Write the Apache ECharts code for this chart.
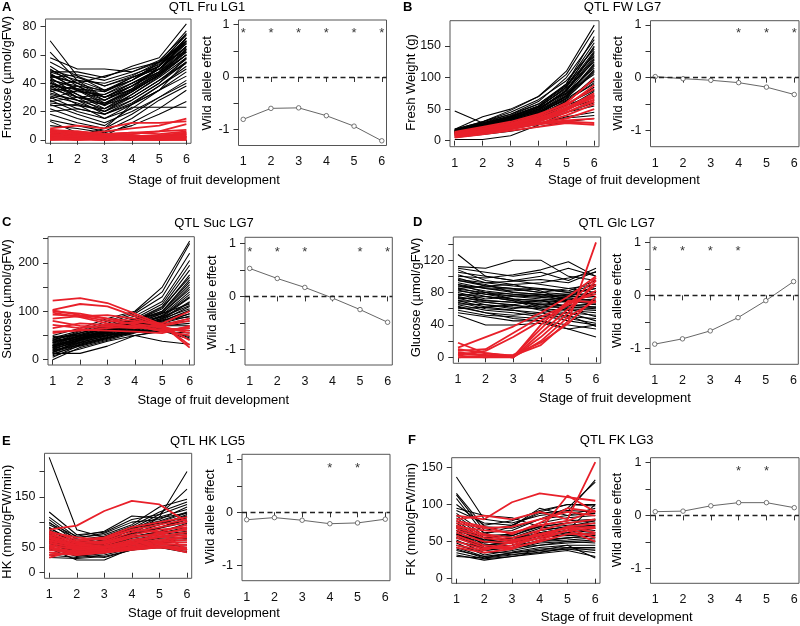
<!DOCTYPE html>
<html><head><meta charset="utf-8">
<script src="https://cdn.jsdelivr.net/npm/echarts@6/dist/echarts.min.js"></script>
<style>html,body{margin:0;padding:0;background:#fff}#c{width:800px;height:626px}</style>
</head><body><div id="c"></div>
<script>
// ---------- DATA ----------
const stages = [1, 2, 3, 4, 5, 6];
const effectTicks = [-1, -0.5, 0, 0.5, 1];
const effectLabels = [-1, 0, 1];
const starY = 0.89;

// A: Fructose (QTL Fru LG1)
const fruBlack = [
[70,45,35,42,52,72],[62,42,30,40,50,65],[58,50,50,48,55,70],[55,45,38,45,55,77],
[52,40,30,35,45,60],[50,38,28,38,50,68],[48,42,35,42,52,75],[47,35,25,30,42,55],
[45,40,45,50,55,62],[44,32,22,32,45,60],[42,38,30,40,48,72],[41,30,20,28,40,58],
[40,35,28,38,50,66],[38,28,18,25,38,52],[37,42,40,46,53,70],[36,30,25,35,47,63],
[35,25,15,25,35,48],[34,38,35,44,52,69],[32,28,22,30,42,57],[30,22,18,28,40,55],
[29,35,30,38,48,62],[28,20,15,22,35,45],[27,30,28,36,47,60],[25,18,12,20,30,40],
[24,25,20,30,42,54],[22,15,10,23,23,23],[20,22,18,26,38,50],[18,12,8,18,30,42],
[14,10,6,15,28,38],[13,5,3,12,22,35],[10,8,5,10,18,27],[5,3,8,25,35,55],
[48,48,44,52,58,82],[44,46,42,48,56,75],[39,30,32,42,55,68],[46,36,26,34,46,64],
[43,36,30,38,48,66],[40,32,24,34,46,62],[36,34,32,40,50,70],[33,28,25,36,48,64],
[46,40,34,42,54,74],[31,26,20,32,44,58],[49,44,38,44,50,66],[38,36,34,44,52,72],
[26,24,22,34,46,60],[42,30,26,36,52,68]];
const fruRed = [
[7,5,3,2,1,2],[5,2,1,0,0,1],[3,1,0,1,0,0],[8,10,8,12,12,13],[6,4,6,8,10,15],
[2,0,1,0,2,4],[4,3,2,3,2,3],[1,2,4,5,4,6],[0,0,0,1,1,2],[6,4,2,1,2,5],
[3,5,2,4,6,11],[2,1,1,2,3,4],[1,0,2,3,2,3],[4,3,2,1,3,5],[0,1,0,0,0,0],
[5,6,4,5,6,7],[2,1,3,2,1,2],[7,6,4,3,2,1],[1,1,0,2,1,1],[3,2,1,1,2,2]];
const fruEffect = [-0.81, -0.60, -0.59, -0.74, -0.94, -1.22];
const fruSig = [1, 2, 3, 4, 5, 6];

// B: Fresh weight (QTL FW LG7)
const fwBlack = [
[15,30,48,70,110,183],[18,38,50,70,105,175],[17,28,42,62,100,160],[16,25,38,55,90,155],
[14,24,35,52,85,150],[18,30,45,65,95,145],[12,22,34,50,80,140],[15,26,40,58,88,135],
[13,20,32,48,78,130],[16,28,38,54,82,125],[11,20,30,45,72,120],[14,24,36,50,76,115],
[12,18,28,42,68,110],[17,27,38,52,75,105],[10,18,26,40,62,100],[13,22,32,44,66,95],
[15,24,34,46,64,90],[11,17,25,36,55,85],[47,28,30,40,58,80],[9,16,24,34,52,78],
[14,22,30,40,56,72],[8,14,22,32,48,70],[12,18,27,37,50,65],[10,15,22,30,45,60],
[2,2,8,25,45,55],[6,12,18,26,38,45],[8,14,20,28,36,40],[5,10,15,22,30,35],
[16,26,36,48,70,112],[18,30,42,58,90,165],[13,21,33,47,74,128],[11,19,29,41,63,92],
[14,23,34,49,79,133],[16,26,37,53,84,142],[12,20,30,43,70,118],[15,25,36,50,80,138],
[13,22,31,45,71,122],[17,28,39,55,87,148],[11,19,28,40,60,98],[14,21,31,43,67,108]];
const fwRed = [
[12,20,28,40,60,98],[10,18,26,38,55,88],[14,22,30,42,58,82],[9,16,24,35,52,75],
[11,17,25,34,50,72],[8,14,22,32,48,70],[13,19,27,36,50,68],[7,13,20,30,44,65],
[10,15,23,31,45,62],[6,12,18,27,40,58],[12,16,22,28,35,50],[9,14,20,26,30,28],
[5,10,16,22,28,25],[11,15,21,27,32,35]];
const fwEffect = [0.02, -0.02, -0.05, -0.095, -0.18, -0.32];
const fwSig = [4, 5, 6];

// C: Sucrose (QTL Suc LG7)
const sucBlack = [
[50,65,85,100,150,245],[45,60,80,98,140,240],[40,58,75,95,130,220],[35,55,72,90,120,205],
[42,52,68,85,115,195],[30,50,65,82,110,185],[38,48,62,80,105,175],[25,45,60,78,100,165],
[32,50,64,76,98,155],[20,42,58,74,95,150],[28,46,62,72,92,140],[15,40,55,70,90,135],
[36,52,66,78,88,128],[22,38,52,68,86,120],[44,55,70,84,96,115],[18,35,50,65,82,110],
[30,44,58,70,85,105],[10,32,48,64,80,100],[26,40,54,68,78,95],[5,30,45,60,75,90],
[34,48,60,72,82,88],[12,28,42,58,72,85],[24,36,50,62,74,80],[0,25,40,55,70,75],
[40,46,56,64,70,70],[13,13,28,50,60,65],[20,30,44,56,64,60],[48,50,55,50,38,32],
[8,22,38,50,58,55],[28,40,52,60,62,48],[16,34,46,58,66,45],[38,44,50,56,60,42],
[35,50,65,80,108,170],[28,44,60,74,96,145],[22,40,55,70,90,130],[40,55,68,82,100,160],
[18,36,50,66,84,118],[30,45,58,72,88,112],[25,42,56,68,80,102],[15,32,46,62,76,95]];
const sucRed = [
[122,127,117,95,72,25],[103,115,110,90,70,40],[100,95,85,80,72,30],[93,90,92,85,68,55],
[85,90,80,75,65,60],[72,65,70,78,75,100],[58,60,65,70,72,85],[55,62,60,58,55,70],
[97,88,75,68,62,65],[80,70,68,65,70,80],[65,75,72,68,60,50],[102,92,85,72,58,68]];
const sucEffect = [0.53, 0.34, 0.17, -0.03, -0.25, -0.49];
const sucSig = [1, 2, 3, 5, 6];

// D: Glucose (QTL Glc LG7)
const glcBlack = [
[127,100,95,90,85,80],[112,110,120,120,100,95],[110,105,100,105,95,110],[108,95,90,92,98,105],
[105,100,95,100,110,100],[102,92,88,85,82,95],[100,98,102,108,118,100],[98,88,85,80,85,90],
[95,90,80,78,75,88],[92,85,82,85,80,85],[90,80,75,72,70,82],[88,82,78,75,78,78],
[86,78,72,70,75,75],[85,88,90,82,70,72],[83,75,70,68,72,70],[80,72,75,78,68,68],
[78,70,68,65,70,65],[76,80,72,62,65,62],[75,68,65,70,62,60],[73,65,60,65,60,58],
[72,75,70,60,58,55],[70,62,65,58,55,52],[68,60,58,55,60,50],[66,65,62,60,50,48],
[65,58,55,50,55,45],[63,55,52,55,48,42],[60,62,58,52,45,40],[58,52,50,48,52,38],
[55,50,45,45,40,35],[52,40,40,42,35,40],[62,55,48,45,35,25],[96,92,94,96,92,106],
[90,85,80,78,76,80],[82,78,76,74,72,75],[78,75,72,70,68,70],[88,86,84,80,78,85],
[74,70,68,66,64,66],[95,88,85,84,80,90],[70,68,64,62,62,62],[84,80,78,76,74,78]];
const glcRed = [
[18,5,2,15,45,142],[12,25,38,55,75,100],[8,10,30,50,65,98],[5,2,0,30,60,90],
[3,8,25,45,65,82],[0,0,0,20,50,70],[10,5,1,35,68,78],[2,0,3,18,42,75],
[6,3,0,25,55,95],[0,2,0,40,70,68]];
const glcEffect = [-0.92, -0.82, -0.67, -0.42, -0.10, 0.26];
const glcSig = [1, 2, 3, 4];

// E: Hexokinase (QTL HK LG5)
const hkBlack = [
[228,85,70,75,110,200],[120,75,80,105,115,165],[110,70,75,95,130,145],[105,65,72,92,120,140],
[100,60,68,88,115,135],[95,68,78,100,105,130],[90,55,65,85,110,125],[88,62,70,82,100,118],
[85,58,60,78,95,112],[80,52,62,90,100,108],[78,50,55,75,90,105],[75,55,58,80,88,100],
[72,48,52,70,82,95],[70,45,50,68,78,90],[68,50,56,72,80,85],[65,42,48,65,75,82],
[62,40,46,62,72,78],[60,45,50,60,70,75],[58,38,42,58,68,70],[55,42,45,55,65,68],
[52,35,40,52,62,65],[50,32,38,55,60,60],[48,25,25,48,55,55],[45,40,42,50,58,50],
[40,35,30,45,52,45],[35,30,35,48,50,40],[30,28,32,45,50,42],[98,72,82,112,108,118],
[70,58,62,85,95,115],[62,50,55,75,88,110],[82,60,68,90,102,120],[58,48,52,70,80,98],
[75,55,65,88,98,112],[66,52,58,78,90,104]];
const hkRed = [
[85,93,122,142,135,100],[82,65,70,90,100,110],[80,70,65,85,95,105],[78,60,62,80,90,100],
[75,62,68,85,80,95],[72,58,60,75,85,90],[70,55,58,72,75,88],[68,52,55,70,78,85],
[65,50,52,65,72,80],[62,55,50,62,70,75],[60,48,50,60,65,72],[58,50,48,58,62,70],
[55,45,45,55,60,65],[52,48,42,52,58,60],[50,42,45,50,55,55],[48,40,40,48,52,50],
[45,38,42,46,50,48],[40,35,40,45,50,45],[35,40,45,48,52,40],[30,45,50,55,80,45]];
const hkEffect = [-0.14, -0.10, -0.15, -0.215, -0.20, -0.13];
const hkSig = [4, 5];

// F: Fructokinase (QTL FK LG3)
const fkBlack = [
[137,80,75,85,90,133],[115,70,68,80,95,130],[113,65,72,90,100,98],[108,60,70,95,85,95],
[100,72,78,92,100,100],[92,75,72,88,92,90],[88,62,65,80,85,88],[85,58,60,75,82,85],
[82,55,58,72,78,80],[78,52,62,70,75,78],[75,50,55,68,72,75],[72,48,52,65,70,72],
[70,45,50,62,68,70],[68,50,55,60,65,68],[65,42,48,58,62,65],[62,40,45,55,60,62],
[60,45,50,58,58,60],[58,38,42,52,55,58],[55,42,45,50,52,55],[52,35,40,48,50,52],
[50,40,42,45,48,50],[48,32,38,45,50,48],[45,35,36,42,45,45],[42,30,35,40,42,42],
[40,28,32,38,40,40],[38,30,33,35,42,38],[35,27,30,36,40,35],[32,25,30,34,38,30],
[30,28,35,38,45,28],[95,85,82,70,65,100],[70,55,58,70,75,80],[60,48,52,62,68,72],
[55,45,48,58,62,68],[65,52,55,65,70,78],[50,42,45,55,60,62],[45,38,42,50,55,58]];
const fkRed = [
[85,80,103,115,110,105],[80,85,80,90,80,157],[78,70,60,75,95,90],[75,68,70,80,90,85],
[72,60,55,65,75,80],[70,65,62,72,78,92],[68,58,52,60,68,70],[65,55,50,58,70,75],
[62,50,48,55,65,68],[58,45,42,50,60,60],[55,42,40,65,112,90],[50,40,45,55,70,62],
[45,38,50,60,68,55],[42,35,40,52,65,50]];
const fkEffect = [0.07, 0.08, 0.18, 0.24, 0.24, 0.145];
const fkSig = [4, 5];

// left-panel tick values / labels
const fruTicks = [0, 20, 40, 60, 80];
const fwTicks = [0, 50, 100, 150];
const sucTicks = [0, 50, 100, 150, 200, 250], sucLabels = [0, 100, 200];
const glcTicks = [0, 20, 40, 60, 80, 100, 120, 140], glcLabels = [0, 40, 80, 120];
const hkTicks = [0, 50, 100, 150, 200], hkLabels = [0, 50, 150];
const fkTicks = [0, 50, 100, 150];

// ---------- LAYOUT ----------
const FONT = '"Liberation Sans", Arial, Helvetica, sans-serif';
const XMIN = 0.83, XMAX = 6.17;
const BLACK = '#000000', RED = '#e8202a';

const panels = [
 {letter:'A', title:'QTL Fru LG1', ytitle:'Fructose (\u00b5mol/gFW)',
  black:fruBlack, red:fruRed, effect:fruEffect, sig:fruSig, ticks:fruTicks, labels:fruTicks,
  L:{l:45.5,t:19,w:145.5,h:124.3,min:-2.5,max:85.4}, R:{l:238.5,t:20,w:148,h:125.5,min:-1.31,max:1.09},
  letterPos:[2,7], titlePos:[207,7.5], stagePos:[204,180.5], yLpos:[7,77], yRpos:[207.5,83.3]},
 {letter:'B', title:'QTL FW LG7', ytitle:'Fresh Weight (g)',
  black:fwBlack, red:fwRed, effect:fwEffect, sig:fwSig, ticks:fwTicks, labels:fwTicks,
  L:{l:450,t:20.7,w:149,h:126,min:-9.5,max:190}, R:{l:650.5,t:20.7,w:148.5,h:126,min:-1.31,max:1.08},
  letterPos:[403,7], titlePos:[622.5,7.5], stagePos:[624,180.5], yLpos:[411,82.5], yRpos:[618.7,83.3]},
 {letter:'C', title:'QTL Suc LG7', ytitle:'Sucrose (\u00b5mol/gFW)',
  black:sucBlack, red:sucRed, effect:sucEffect, sig:sucSig, ticks:sucTicks, labels:sucLabels,
  L:{l:48,t:236.7,w:146.3,h:128.3,min:-11,max:254}, R:{l:245,t:237.3,w:147.3,h:127.7,min:-1.30,max:1.12},
  letterPos:[2,222], titlePos:[214,223.3], stagePos:[213.3,400], yLpos:[7,299], yRpos:[212.8,302.5]},
 {letter:'D', title:'QTL Glc LG7', ytitle:'Glucose (\u00b5mol/gFW)',
  black:glcBlack, red:glcRed, effect:glcEffect, sig:glcSig, ticks:glcTicks, labels:glcLabels,
  L:{l:453.3,t:237,w:147.4,h:126.3,min:-7.4,max:148.6}, R:{l:650,t:237.3,w:148.3,h:127,min:-1.30,max:1.094},
  letterPos:[413,222.5], titlePos:[616.7,223], stagePos:[615,398.5], yLpos:[416.7,297.5], yRpos:[617.5,300.8]},
 {letter:'E', title:'QTL HK LG5', ytitle:'HK (nmol/gFW/min)',
  black:hkBlack, red:hkRed, effect:hkEffect, sig:hkSig, ticks:hkTicks, labels:hkLabels,
  L:{l:44.5,t:453.3,w:147.2,h:125,min:-11,max:236}, R:{l:242,t:454.3,w:148,h:126.4,min:-1.29,max:1.094},
  letterPos:[2,441], titlePos:[207.5,441.2], stagePos:[204,613.5], yLpos:[7.2,521.7], yRpos:[210.8,516.7]},
 {letter:'F', title:'QTL FK LG3', ytitle:'FK (nmol/gFW/min)',
  black:fkBlack, red:fkRed, effect:fkEffect, sig:fkSig, ticks:fkTicks, labels:fkTicks,
  L:{l:451.7,t:457.7,w:148.3,h:125.6,min:-6.2,max:163}, R:{l:650.5,t:457.7,w:148.5,h:125.6,min:-1.28,max:1.087},
  letterPos:[408,440.5], titlePos:[616.7,440.7], stagePos:[616.7,617], yLpos:[411.3,519.2], yRpos:[617.5,520]}
];

const option = {animation:false, grid:[], xAxis:[], yAxis:[], series:[], graphic:[]};
const labelStyle = {fontSize:12.5, color:'#111', fontFamily:FONT};

function addGrid(g, yTicks, yLabels) {
  const idx = option.grid.length;
  option.grid.push({left:g.l, top:g.t, width:g.w, height:g.h, show:true,
    borderColor:'#555', borderWidth:1, backgroundColor:'transparent',
    containLabel:false, outerBoundsMode:'none'});
  option.xAxis.push({type:'value', gridIndex:idx, min:XMIN, max:XMAX, offset:1,
    axisLine:{show:false}, splitLine:{show:false},
    axisTick:{show:true, length:5, customValues:stages, lineStyle:{color:'#333', width:1}},
    axisLabel:Object.assign({show:true, margin:9, customValues:stages}, labelStyle)});
  option.yAxis.push({type:'value', gridIndex:idx, min:g.min, max:g.max,
    axisLine:{show:false}, splitLine:{show:false},
    axisTick:{show:true, length:5, customValues:yTicks, lineStyle:{color:'#333', width:1}},
    axisLabel:Object.assign({show:true, margin:9, customValues:yLabels}, labelStyle)});
  return idx;
}

function txt(x, y, text, opts) {
  const o = opts || {};
  return {type:'text', x:x, y:y, rotation:o.rot || 0, silent:true, z:100,
    style:{text:text, x:0, y:0, fill:'#000', fontSize:o.size || 13, fontWeight:o.weight || 'normal',
      fontFamily:FONT, align:o.align || 'center', verticalAlign:'middle',
      textAlign:o.align || 'center', textVerticalAlign:'middle'}};
}

panels.forEach(p => {
  const li = addGrid(p.L, p.ticks, p.labels);
  p.black.forEach(row => option.series.push({type:'line', xAxisIndex:li, yAxisIndex:li, silent:true,
    symbol:'none', z:2, data:stages.map((s, i) => [s, row[i]]), lineStyle:{color:BLACK, width:1.05}}));
  p.red.forEach(row => option.series.push({type:'line', xAxisIndex:li, yAxisIndex:li, silent:true,
    symbol:'none', z:3, data:stages.map((s, i) => [s, row[i]]), lineStyle:{color:RED, width:1.8}}));

  const ri = addGrid(p.R, effectTicks, effectLabels);
  option.series.push({type:'line', xAxisIndex:ri, yAxisIndex:ri, silent:true, z:3,
    data:stages.map((s, i) => [s, p.effect[i]]), symbol:'circle', symbolSize:4.5,
    lineStyle:{color:'#555', width:0.9}, itemStyle:{color:'#ffffff', borderColor:'#555', borderWidth:0.8},
    markLine:{silent:true, symbol:['none','none'], label:{show:false},
      lineStyle:{color:'#222', width:1.3, type:[5,3.5]}, data:[{yAxis:0}]}});
  option.series.push({type:'scatter', xAxisIndex:ri, yAxisIndex:ri, silent:true, z:4,
    data:p.sig.map(s => [s, starY]), symbolSize:0,
    label:{show:true, position:'inside', formatter:'*', fontSize:13, color:'#000', fontFamily:FONT, offset:[0,3]}});

  option.graphic.push(txt(p.letterPos[0], p.letterPos[1], p.letter, {weight:'bold', size:13, align:'left'}));
  option.graphic.push(txt(p.titlePos[0], p.titlePos[1], p.title));
  option.graphic.push(txt(p.stagePos[0], p.stagePos[1], 'Stage of fruit development'));
  option.graphic.push(txt(p.yLpos[0], p.yLpos[1], p.ytitle, {rot:Math.PI/2}));
  option.graphic.push(txt(p.yRpos[0], p.yRpos[1], 'Wild allele effect', {rot:Math.PI/2}));
});

const chart = echarts.init(document.getElementById('c'), null, {renderer:'canvas'});
chart.setOption(option);
</script>
</body></html>
